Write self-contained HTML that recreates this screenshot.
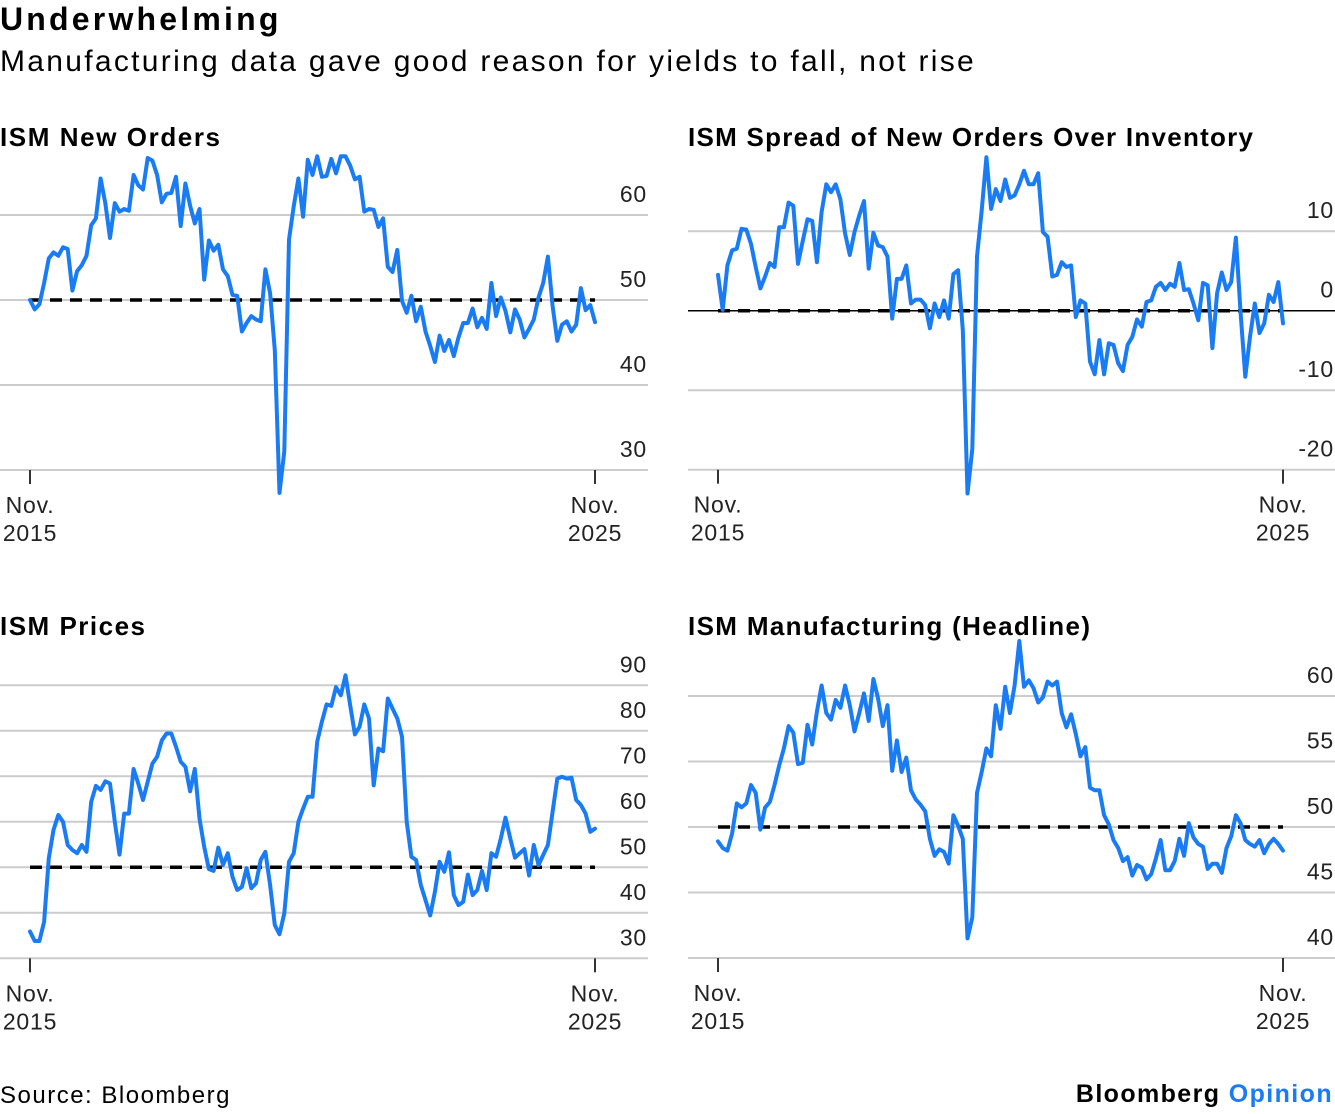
<!DOCTYPE html>
<html><head><meta charset="utf-8"><style>
html,body{margin:0;padding:0;background:#fff;}
body{width:1335px;height:1114px;overflow:hidden;position:relative;font-family:"Liberation Sans",sans-serif;color:#000;}
.t{position:absolute;white-space:nowrap;}
</style></head><body>
<div class="t" style="left:0;top:1px;font-size:32px;font-weight:bold;letter-spacing:3.2px;">Underwhelming</div>
<div class="t" style="left:0;top:45px;font-size:30px;letter-spacing:2.3px;">Manufacturing data gave good reason for yields to fall, not rise</div>
<svg id="chart" width="1335" height="1114" style="position:absolute;left:0;top:0;" xmlns="http://www.w3.org/2000/svg"></svg>
<div class="t" style="left:0;top:1082px;font-size:24px;letter-spacing:1.5px;">Source: Bloomberg</div>
<div class="t" style="right:2px;top:1080px;font-size:25px;font-weight:bold;letter-spacing:1.4px;">Bloomberg <span style="color:#1a7cf5">Opinion</span></div>
<script>
const months = 121; // Nov 2015 .. Nov 2025
const xTickLabels = [["Nov.","2015"],["Nov.","2025"]];
const newOrders = [50,48.9,49.5,52,54.9,55.6,55.2,56.2,56,51.1,53.4,54.1,55.2,58.8,59.6,64.3,61.4,57.3,61.4,60.4,60.7,60.5,64.7,63.5,63,66.7,66.4,64.7,61.5,62.5,62.6,64.5,58.7,63.7,61.1,59,60.7,52.4,57,55.8,56.5,53.6,52.8,50.6,50.5,46.3,47.3,48.1,47.7,47.5,53.6,50.8,44.1,27.3,32.2,57.1,61,64.3,59.8,66.5,64.7,66.9,64.5,64.6,66.6,64.9,66.9,66.9,65.8,64.2,64.5,60.4,60.7,60.6,58.6,59.6,53.9,53.3,55.9,49.9,48.5,50.5,47.5,49.2,46.3,44.6,42.7,45.8,44,45.3,43.4,45.6,47.3,47.3,49,46.8,47.9,46.6,52,48.1,50.3,48.7,46.2,48.9,47.7,45.6,46.6,47.7,50.3,52,55.1,49.3,45.2,47.1,47.5,46.3,47.1,51.4,48.8,49.4,47.4];
const spread = [4.5,0.1,5.7,7.6,7.8,10.3,10.2,8.4,5.5,2.8,4.3,6,5.5,10.5,10.5,13.6,13.2,5.9,8.8,11.5,11.3,6.1,12.4,15.9,14.9,15.9,14,9.7,7,9.9,12,13.8,5.3,9.8,8.2,8,6.8,-1,4,4,5.7,0.9,1.4,1.4,0.7,-2.2,0.9,-0.8,1.3,-1,4.6,5.1,-2.4,-23,-17.4,6.8,12.6,19.3,12.8,15.3,13.8,16.5,14.2,14.5,15.9,17.6,15.9,15.9,17.3,9.9,9.3,4.3,4.5,6.1,5.5,5.7,-0.8,1.3,0.9,-6.4,-8,-3.7,-8,-4.1,-4.3,-6.6,-7.6,-4.3,-3.3,-1.1,-2,1.1,1.3,3,3.5,2.6,3.4,3,6,2.6,2.7,0.9,-1.2,3.5,3.2,-4.7,2.2,4.8,2.6,3.6,9.2,-0.3,-8.3,-3.3,0.9,-2.8,-1.6,2,1.1,3.6,-1.6];
const prices = [35.9,33.8,33.8,38,52,58.2,61.5,60,54.9,53.8,53.1,54.9,53.4,64.4,67.9,67,68.9,68.4,60,52.8,61.8,61.8,71.6,68.4,64.8,68.8,72.8,74.3,77.9,79.4,79.4,76.5,73.2,72.1,66.7,71.6,60.7,54.5,49.6,49.2,54.3,50.5,53.1,47.9,45,45.7,49.8,45.4,46.5,51.6,53.4,46.1,37.3,35.3,39.9,51.2,53.1,60,62.9,65.5,65.5,77.6,82,85.8,85.5,89.6,87.8,92.2,85.6,79.2,80.9,85.8,82.7,68,76.1,75.5,87.1,84.9,82.7,78.7,60,52.3,51.6,46.1,42.8,39.4,44.6,51.2,49,53.3,43.9,41.7,42.4,48.4,43.9,45,49.2,45,53.1,52.3,56.3,60.9,56.3,52.1,53.1,54,48.2,54.9,50.5,52.7,54.9,62.2,69.5,69.9,69.5,69.7,64.8,63.7,61.8,57.8,58.5];
const headline = [48.9,48.4,48.2,49.5,51.8,51.5,51.8,53.2,52.6,49.8,51.5,51.9,53.2,54.7,56,57.7,57.2,54.8,54.9,57.8,56.3,58.8,60.8,58.7,58.2,59.7,59.1,60.8,59.3,57.3,58.7,60.2,58.1,61.3,59.8,57.7,59.3,54.3,56.6,54.2,55.3,52.8,52.1,51.7,51.2,49.1,47.8,48.3,48.1,47.2,50.9,50.1,49.1,41.5,43.1,52.6,54.2,56,55.4,59.3,57.5,60.7,58.7,60.8,64.2,60.7,61.2,60.6,59.5,59.9,61.1,60.8,61.1,58.7,57.6,58.6,57.1,55.4,56.1,53,52.8,52.8,50.9,50.2,49,48.4,47.4,47.7,46.3,47.1,46.9,46,46.4,47.6,49,46.7,46.7,47.4,49.1,47.8,50.3,49.2,48.7,48.5,46.8,47.2,47.2,46.5,48.4,49.3,50.9,50.3,49,48.7,48.5,49,48,48.7,49.1,48.7,48.2];
const noTicks = [60,50,40,30];
const spreadTicks = [10,0,-10,-20];
const pricesTicks = [90,80,70,60,50,40,30];
const headlineTicks = [60,55,50,45,40];

const NS = "http://www.w3.org/2000/svg";
const svg = document.getElementById('chart');
function mk(tag, attrs, parent){
  const e = document.createElementNS(NS, tag);
  for (const k in attrs) e.setAttribute(k, attrs[k]);
  (parent||svg).appendChild(e);
  return e;
}
function panel(cfg){
  const g = mk('g', {});
  
  
  const xs = i => cfg.x0 + i * (cfg.x1 - cfg.x0) / (months - 1);
  const ys = v => cfg.yRef - (v - cfg.vRef) * cfg.ppu;
  const t = mk('text', {x: cfg.gx0, y: cfg.titleY, 'font-size': 26, 'font-weight': 'bold', 'font-family': 'Liberation Sans, sans-serif', textLength: cfg.titleW, lengthAdjust: 'spacing'}, g);
  t.textContent = cfg.title;
  
  
  cfg.ticks.forEach(v => {
    const y = ys(v);
    const l = mk('line', {x1: cfg.gx0, x2: cfg.gx1, y1: y, y2: y, stroke: (v === cfg.solid) ? '#000' : '#cccccc', 'stroke-width': (v === cfg.solid) ? 1.5 : 2}, g);
    
    
    const tx = mk('text', {x: cfg.gx1 - 1, y: y - 13, 'text-anchor': 'end', 'font-size': 23, 'letter-spacing': 0.8, fill: '#222', 'font-family': 'Liberation Sans, sans-serif'}, g);
    tx.textContent = String(v);
    
    
  });
  [0, months - 1].forEach((i, k) => {
    const x = xs(i), yb = ys(cfg.ticks[cfg.ticks.length - 1]);
    const tk = mk('line', {x1: x, x2: x, y1: yb, y2: yb + 14, stroke: '#333', 'stroke-width': 2}, g);
    
    
    xTickLabels[k].forEach((s, j) => {
      const tx = mk('text', {x: x, y: yb + 43 + j * 28, 'text-anchor': 'middle', 'font-size': 23, 'letter-spacing': 0.8, fill: '#222', 'font-family': 'Liberation Sans, sans-serif'}, g);
      tx.textContent = s;
      
      
    });
  });
  const dy = ys(cfg.dash);
  const d = mk('line', {x1: cfg.x0, x2: cfg.x1, y1: dy, y2: dy, stroke: '#000', 'stroke-width': 3.5, 'stroke-dasharray': '12 8'}, g);
  
  
  const pts = cfg.data.map((v, i) => xs(i).toFixed(1) + ',' + ys(v).toFixed(1)).join(' ');
  const p = mk('polyline', {points: pts, fill: 'none', stroke: '#1a7cf5', 'stroke-width': 4, 'stroke-linejoin': 'round', 'stroke-linecap': 'round'}, g);
  
  
}
panel({name:'new-orders-panel', title:'ISM New Orders', titleW:220, data:newOrders, ticks:noTicks, x0:30, x1:595, gx0:0, gx1:648, titleY:146, yRef:300, vRef:50, ppu:8.5, dash:50, solid:null});
panel({name:'spread-panel', title:'ISM Spread of New Orders Over Inventory', titleW:565, data:spread, ticks:spreadTicks, x0:718, x1:1283, gx0:688, gx1:1335, titleY:146, yRef:310.7, vRef:0, ppu:7.95, dash:0, solid:0});
panel({name:'prices-panel', title:'ISM Prices', titleW:145, data:prices, ticks:pricesTicks, x0:30, x1:595, gx0:0, gx1:648, titleY:635, yRef:867.3, vRef:50, ppu:4.55, dash:50, solid:null});
panel({name:'headline-panel', title:'ISM Manufacturing (Headline)', titleW:402, data:headline, ticks:headlineTicks, x0:718, x1:1283, gx0:688, gx1:1335, titleY:635, yRef:827, vRef:50, ppu:13.1, dash:50, solid:null});
</script>
</body></html>
